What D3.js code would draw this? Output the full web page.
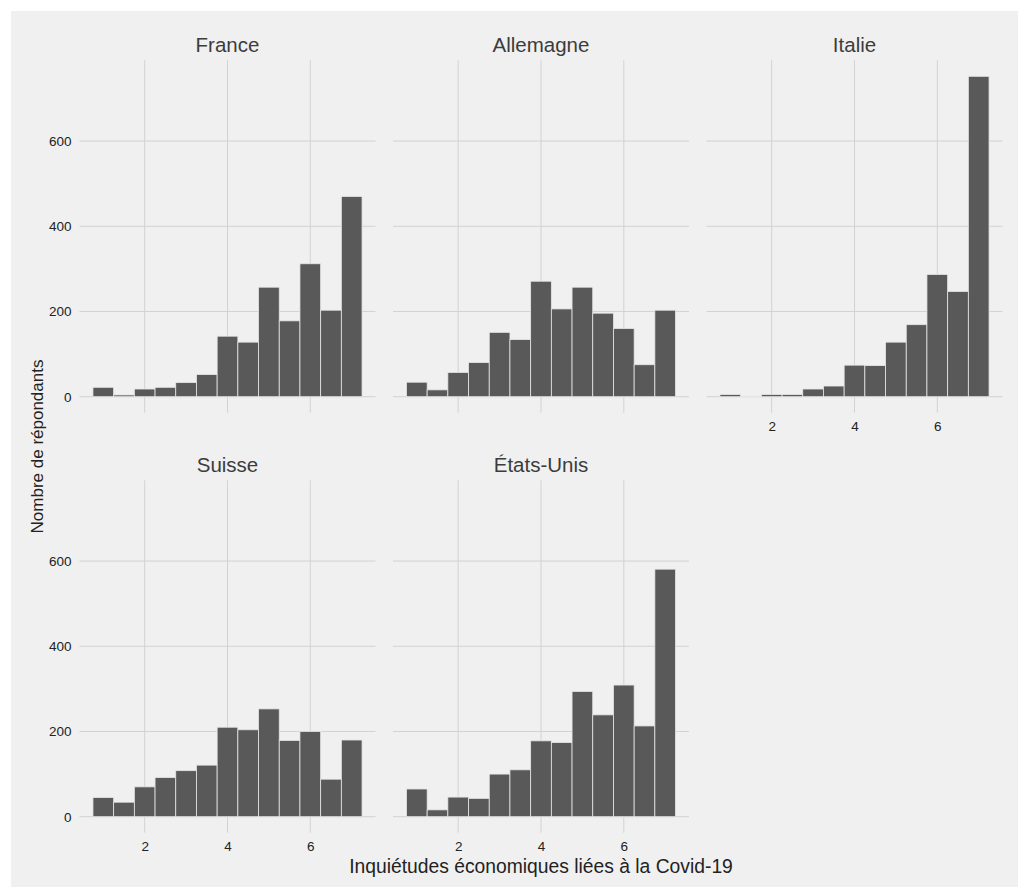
<!DOCTYPE html>
<html>
<head>
<meta charset="utf-8">
<script src="https://cdn.jsdelivr.net/npm/d3@7/dist/d3.min.js"></script>
<style>
  html, body { margin: 0; padding: 0; background: #ffffff; }
  svg { display: block; font-family: "Liberation Sans", Arial, Helvetica, sans-serif; }
</style>
</head>
<body>
<svg id="chart" width="1018" height="887"></svg>
<script>
// ---- data ----
const countries = ["France", "Allemagne", "Italie", "Suisse", "États-Unis"];
const binCenters = [1, 1.5, 2, 2.5, 3, 3.5, 4, 4.5, 5, 5.5, 6, 6.5, 7];
const binWidth = 0.5;
const franceCounts    = [22, 4, 18, 22, 33, 52, 142, 128, 257, 178, 312, 203, 470];
const allemagneCounts = [34, 16, 57, 80, 151, 134, 271, 206, 257, 196, 160, 75, 203];
const italieCounts    = [5, 1, 5, 5, 18, 25, 74, 73, 128, 169, 287, 247, 752];
const suisseCounts    = [45, 34, 70, 92, 108, 121, 210, 204, 253, 179, 200, 88, 180];
const usCounts        = [65, 16, 46, 43, 100, 110, 178, 174, 294, 239, 309, 213, 581];
const xTickValues = [2, 4, 6];
const yTickValues = [0, 200, 400, 600];
const xTitle = "Inquiétudes économiques liées à la Covid-19";
const yTitle = "Nombre de répondants";

const seriesByCountry = [franceCounts, allemagneCounts, italieCounts, suisseCounts, usCounts];

// ---- layout ----
const svg = d3.select("#chart");
const W = 1018, H = 887;
const bg = "#F0F0F0";
svg.append("rect").attr("x", 11).attr("y", 11).attr("width", W - 11).attr("height", H - 11).attr("fill", bg);

const panelW = 296, panelH = 352.4;
const colX = [79.5, 393, 706.5];
const rowY = [60.3, 480.3];

const xMin = binCenters[0] - binWidth / 2, xMax = binCenters[binCenters.length - 1] + binWidth / 2;
const xPad = (xMax - xMin) * 0.05;
const yMax = d3.max(seriesByCountry.flat());
const yPad = yMax * 0.05;

const x = d3.scaleLinear().domain([xMin - xPad, xMax + xPad]).range([0, panelW]);
const y = d3.scaleLinear().domain([-yPad, yMax + yPad]).range([panelH, 0]);

const gridColor = "#D2D2D2";

countries.forEach((name, i) => {
  const col = i % 3, row = Math.floor(i / 3);
  const g = svg.append("g").attr("transform", `translate(${colX[col]},${rowY[row]})`);
  const values = seriesByCountry[i];

  // grid
  g.selectAll("line.gy").data(yTickValues).enter().append("line")
    .attr("x1", 0).attr("x2", panelW)
    .attr("y1", d => y(d)).attr("y2", d => y(d))
    .attr("stroke", gridColor).attr("stroke-width", 1);
  g.selectAll("line.gx").data(xTickValues).enter().append("line")
    .attr("x1", d => x(d)).attr("x2", d => x(d))
    .attr("y1", 0).attr("y2", panelH)
    .attr("stroke", gridColor).attr("stroke-width", 1);

  // bars
  g.selectAll("rect.bar").data(binCenters.map((c, j) => ({c, v: values[j]}))).enter().append("rect")
    .attr("x", d => x(d.c - binWidth / 2))
    .attr("width", d => x(d.c + binWidth / 2) - x(d.c - binWidth / 2))
    .attr("y", d => y(d.v))
    .attr("height", d => y(0) - y(d.v))
    .attr("fill", "#595959")
    .attr("stroke", "#E6E6E6")
    .attr("stroke-width", 0.8);

  // strip title
  g.append("text")
    .attr("x", panelW / 2).attr("y", -8)
    .attr("text-anchor", "middle")
    .attr("font-size", 20.5)
    .attr("fill", "#3C3C3C")
    .text(name);

  // y axis labels (first column)
  if (col === 0) {
    const ya = d3.axisLeft(y).tickValues(yTickValues).tickSize(0).tickPadding(8);
    const ag = g.append("g").call(ya);
    ag.select(".domain").remove();
    ag.selectAll("text").attr("font-size", 13.5).attr("fill", "#222").attr("font-family", null);
  }
  // x axis labels (bottom-most panel in each column)
  const isBottom = row === 1 || (row === 0 && i + 3 >= countries.length);
  if (isBottom) {
    const xa = d3.axisBottom(x).tickValues(xTickValues).tickSize(0).tickPadding(9);
    const ag = g.append("g").attr("transform", `translate(0,${panelH})`).call(xa);
    ag.select(".domain").remove();
    ag.selectAll("text").attr("font-size", 13.5).attr("fill", "#222").attr("font-family", null);
  }
});

// axis titles
svg.append("text")
  .attr("x", (colX[0] + colX[2] + panelW) / 2).attr("y", 873)
  .attr("text-anchor", "middle").attr("font-size", 19.3).attr("fill", "#222")
  .text(xTitle);
svg.append("text")
  .attr("transform", `translate(42.5,${(rowY[0] + rowY[1] + panelH) / 2}) rotate(-90)`)
  .attr("text-anchor", "middle").attr("font-size", 17).attr("fill", "#222")
  .text(yTitle);
</script>
</body>
</html>
